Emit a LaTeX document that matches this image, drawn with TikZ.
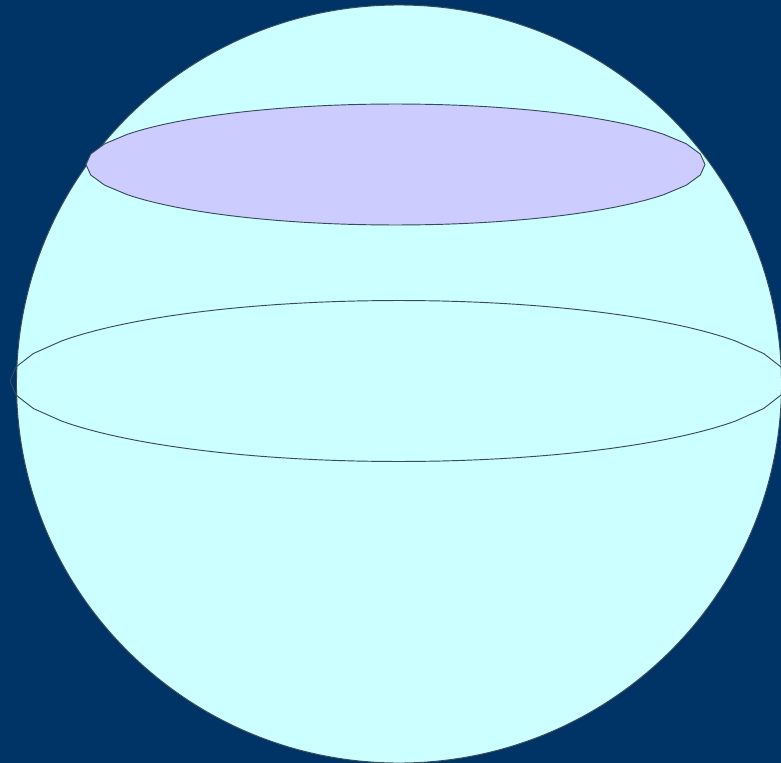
\documentclass[tikz,border=0pt]{standalone}
\definecolor{bgblue}{HTML}{003366}
\definecolor{sphere}{HTML}{CCFFFF}
\definecolor{cap}{HTML}{CCCCFF}
\definecolor{edge}{HTML}{3A4A5A}
\tikzset{x=0.75pt,y=-0.75pt,outline/.style={draw=edge,line width=0.7pt,line join=round}}
% facetted ellipse: coarse straight facets near both tips, fine along the long sides
\newcommand{\facetellipse}[4]{%
  plot[domain=-30:30,samples=7] ({#1+#3*cos(\x)},{#2+#4*sin(\x)})
  -- plot[domain=33:147,samples=39] ({#1+#3*cos(\x)},{#2+#4*sin(\x)})
  -- plot[domain=150:210,samples=7] ({#1+#3*cos(\x)},{#2+#4*sin(\x)})
  -- plot[domain=213:327,samples=39] ({#1+#3*cos(\x)},{#2+#4*sin(\x)}) -- cycle}
\begin{document}
\begin{tikzpicture}
\useasboundingbox (0,0) rectangle (781,763);
\fill[bgblue] (0,0) rectangle (781,763);
\path[clip] (0,0) rectangle (781,763);
\filldraw[outline,fill=sphere] (399,384) ellipse [x radius=382.5,y radius=379];
\filldraw[outline,fill=cap] \facetellipse{395.5}{164.5}{309.5}{60.5};
\draw[outline] \facetellipse{398.5}{381}{388.5}{80.5};
\end{tikzpicture}
\end{document}
